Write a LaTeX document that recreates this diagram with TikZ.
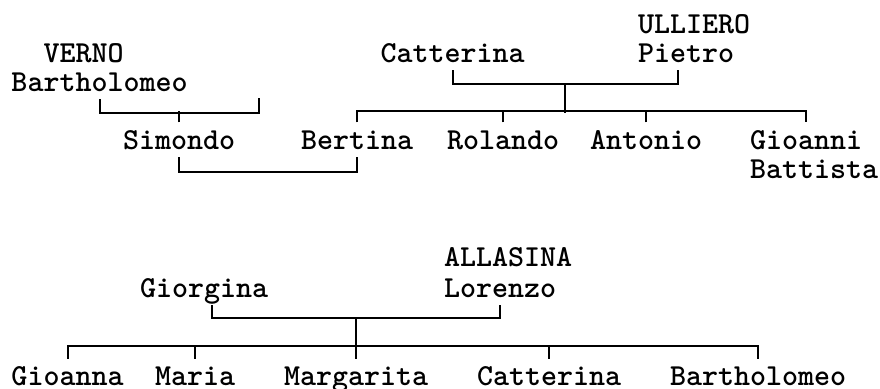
\documentclass[tikz,border=0pt]{standalone}
\usepackage{fontspec}
\usetikzlibrary{calc}

\begin{document}
\begin{tikzpicture}[x=1pt,y=-1pt,line width=2pt,
            person/.style={anchor=base west,inner xsep=0pt,inner ysep=7pt,
                text height=18.6pt,text depth=0pt,
                font=\ttfamily\bfseries\fontsize{30.5}{36}\selectfont}]
            \useasboundingbox (0,0) rectangle (880,388);
            \node[person] (verno) at (42.5,62) {VERNO};
            \node[person] (bartholomeo) at (10.5,91.3) {Bartholomeo};
            \node[person] (catterina) at (379.5,62) {Catterina};
            \node[person] (ulliero) at (637,33) {ULLIERO};
            \node[person] (pietro) at (637,62) {Pietro};
            \node[person] (simondo) at (122,149) {Simondo};
            \node[person] (bertina) at (300,149) {Bertina};
            \node[person] (rolando) at (446,149) {Rolando};
            \node[person] (antonio) at (589,149) {Antonio};
            \node[person] (gioanni) at (749,149) {Gioanni};
            \node[person] (battista) at (749,178.5) {Battista};
            \coordinate (spouse) at (259,98.3);
            \coordinate (pietroleg) at ([xshift=-8pt]pietro.south);
            \draw (bartholomeo.south) -- ++(0,14) -| (spouse);
            \draw (simondo.north) -- ++(0,-11);
            \draw (simondo.south) -- ++(0,15) -| (bertina.south);
            \draw (catterina.south) -- ++(0,14) -| (pietroleg);
            \draw ($(catterina.south)!.5!(pietroleg)$) ++(0,14) -- ++(0,29);
            \draw (bertina.north) -- ++(0,-11) -| (gioanni.north);
            \draw (rolando.north) -- ++(0,-11);
            \draw (antonio.north) -- ++(0,-11);
            \node[person] (allasina) at (443,266.5) {ALLASINA};
            \node[person] (lorenzo) at (443,297) {Lorenzo};
            \node[person] (giorgina) at (139,297) {Giorgina};
            \node[person] (gioanna) at (10.5,385.5) {Gioanna};
            \node[person] (maria) at (154,385.5) {Maria};
            \node[person] (margarita) at (283,385.5) {Margarita};
            \node[person] (catterina2) at (476,385.5) {Catterina};
            \node[person] (bartholomeo2) at (669,385.5) {Bartholomeo};
            \coordinate (giorginaleg) at ([xshift=8pt]giorgina.south);
            \draw (giorginaleg) -- ++(0,13.3) -| (lorenzo.south);
            \draw ($(giorginaleg)!.5!(lorenzo.south)$) ++(0,13.3) -- ++(0,29.4);
            \draw (gioanna.north) -- ++(0,-13.3) -| (bartholomeo2.north);
            \draw (maria.north) -- ++(0,-13.3);
            \draw (margarita.north) -- ++(0,-13.3);
            \draw (catterina2.north) -- ++(0,-13.3);
        \end{tikzpicture}
\end{document}
